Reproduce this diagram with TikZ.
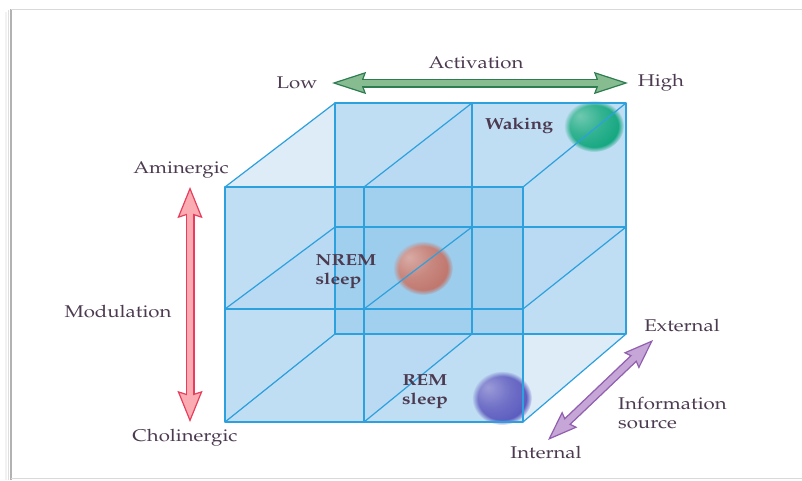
\documentclass[tikz,border=0pt]{standalone}
\usepackage[T1]{fontenc}
\usepackage{mathpazo}
\usetikzlibrary{arrows.meta,fadings}

\definecolor{labelc}{RGB}{76,58,80}
\definecolor{edgec}{RGB}{45,160,222}
\definecolor{cubefill}{RGB}{60,160,225}
\definecolor{cubebase}{RGB}{222,236,248}
\definecolor{grnfill}{RGB}{135,188,145}
\definecolor{grnline}{RGB}{45,125,80}
\definecolor{redfill}{RGB}{250,172,178}
\definecolor{redline}{RGB}{232,62,92}
\definecolor{purfill}{RGB}{198,165,215}
\definecolor{purline}{RGB}{145,95,175}
\definecolor{wakec}{RGB}{15,165,125}
\definecolor{nremc}{RGB}{190,115,105}
\definecolor{remc}{RGB}{88,88,190}

% soft sphere shading; its colour follows ballc at the time of use
\colorlet{ballc}{wakec}
\pgfdeclareradialshading[ballc]{softball}{\pgfpoint{-12bp}{10bp}}{%
  color(0bp)=(ballc!60!white); color(16bp)=(ballc!85!white);
  color(32bp)=(ballc); color(50bp)=(ballc!90!black); color(70bp)=(ballc!90!black)}

% slightly widened lettering
\newcommand{\stx}[1]{\scalebox{1.2}[1]{#1}}

% fat outlined double-headed arrow: from, to, fill, outline, head length, head width, inner shortening
\newcommand{\fatarrow}[7]{%
  \draw[line width=9pt, draw=#4,
    {Stealth[length=#5,width=#6,inset=4pt,fill=#3,line width=1.2pt]}-{Stealth[length=#5,width=#6,inset=4pt,fill=#3,line width=1.2pt]}]
    (#1) -- (#2);
  \draw[line width=6.2pt, draw=#3, shorten <=#7, shorten >=#7] (#1) -- (#2);}

\begin{document}
\begin{tikzpicture}[x=1pt,y=-1pt,
  lbl/.style={text=labelc, font=\fontsize{17}{20}\selectfont, inner sep=1pt},
  statelbl/.style={lbl, font=\fontsize{16}{20}\selectfont\bfseries},
  edge/.style={draw=edgec, line width=1.2pt, line join=round},
  face/.style={fill=cubefill, fill opacity=0.19},
  midface/.style={fill=cubefill, fill opacity=0.04},
  ballstyle/.style={shading=softball, path fading=circle with fuzzy edge 20 percent}]

\useasboundingbox (0,0) rectangle (802,480);

% page frame with a soft shadow on the left
\draw[gray!10, line width=2pt] (6,12) -- (6,480);
\draw[gray!25, line width=1.5pt] (8.5,10) -- (8.5,480);
\draw[gray!60, line width=1.6pt] (11,9) -- (11,480);
\draw[gray!30, line width=1pt] (11,9) -- (802,9);
\draw[gray!30, line width=1pt] (11,478.5) -- (802,478.5);

% cube corners: front face
\coordinate (fBL) at (225,422); \coordinate (fBM) at (364,422); \coordinate (fBR) at (523,422);
\coordinate (fML) at (225,309); \coordinate (fMM) at (364,309); \coordinate (fMR) at (523,309);
\coordinate (fTL) at (225,187); \coordinate (fTM) at (364,187); \coordinate (fTR) at (523,187);
% back face
\coordinate (bBL) at (335,334); \coordinate (bBM) at (472,334); \coordinate (bBR) at (626,334);
\coordinate (bML) at (335,227); \coordinate (bMM) at (472,227); \coordinate (bMR) at (626,227);
\coordinate (bTL) at (335,103); \coordinate (bTM) at (472,103); \coordinate (bTR) at (626,103);

% translucent volume
\fill[cubebase] (fBL) -- (fTL) -- (bTL) -- (bTR) -- (bBR) -- (fBR) -- cycle;
\fill[face] (fBL) rectangle (fTR);
\fill[face] (bBL) rectangle (bTR);
\fill[midface] (fBM) -- (fTM) -- (bTM) -- (bBM) -- cycle;
\fill[midface] (fML) -- (fMR) -- (bMR) -- (bML) -- cycle;

% state spheres
\colorlet{ballc}{wakec}
\shade[ballstyle] (594,126) ellipse [x radius=30pt, y radius=26pt];
\colorlet{ballc}{nremc}
\shade[ballstyle] (423,268) ellipse [x radius=30pt, y radius=27pt];
\colorlet{ballc}{remc}
\shade[ballstyle] (502,398) ellipse [x radius=30pt, y radius=27pt];

% cube edges
\draw[edge] (fBL) rectangle (fTR);
\draw[edge] (fBM) -- (fTM) (fML) -- (fMR);
\draw[edge] (bBL) rectangle (bTR);
\draw[edge] (bBM) -- (bTM) (bML) -- (bMR);
\draw[edge] (fTL) -- (bTL) (fTM) -- (bTM) (fTR) -- (bTR);
\draw[edge] (fML) -- (bML) (fMM) -- (bMM) (fMR) -- (bMR);
\draw[edge] (fBL) -- (bBL) (fBM) -- (bBM) (fBR) -- (bBR);

% state labels
\node[statelbl] (waking) at (519,126) {\stx{Waking}};
\node[statelbl, align=left] (nrem) at (346,272) {\stx{NREM}\\[-1pt]\stx{sleep}};
\node[statelbl, align=center] (rem) at (425,392) {\stx{REM}\\[-1pt]\stx{sleep}};

% axis labels
\node[lbl] (low) at (297,83) {\stx{Low}};
\node[lbl] (high) at (661,83) {\stx{High}};
\node[lbl] (activation) at (476,63) {\stx{Activation}};
\node[lbl] (aminergic) at (181,170) {\stx{Aminergic}};
\node[lbl] (cholinergic) at (185,438) {\stx{Cholinergic}};
\node[lbl] (modulation) at (118,312) {\stx{Modulation}};
\node[lbl] (external) at (682,326) {\stx{External}};
\node[lbl] (internal) at (546,453) {\stx{Internal}};
\node[lbl, align=left, anchor=west] (infosource) at (617,413) {\stx{Information}\\[-1pt]\stx{source}};

% axis arrows
\coordinate (actL) at (332,83);  \coordinate (actR) at (628,83);
\coordinate (modT) at (190,187); \coordinate (modB) at (190,422);
\coordinate (infE) at (653,340); \coordinate (infI) at (548,440);
\fatarrow{actL}{actR}{grnfill}{grnline}{34pt}{22pt}{26pt}
\fatarrow{modT}{modB}{redfill}{redline}{31pt}{25pt}{23pt}
\fatarrow{infE}{infI}{purfill}{purline}{30pt}{22pt}{22pt}

\end{tikzpicture}
\end{document}
